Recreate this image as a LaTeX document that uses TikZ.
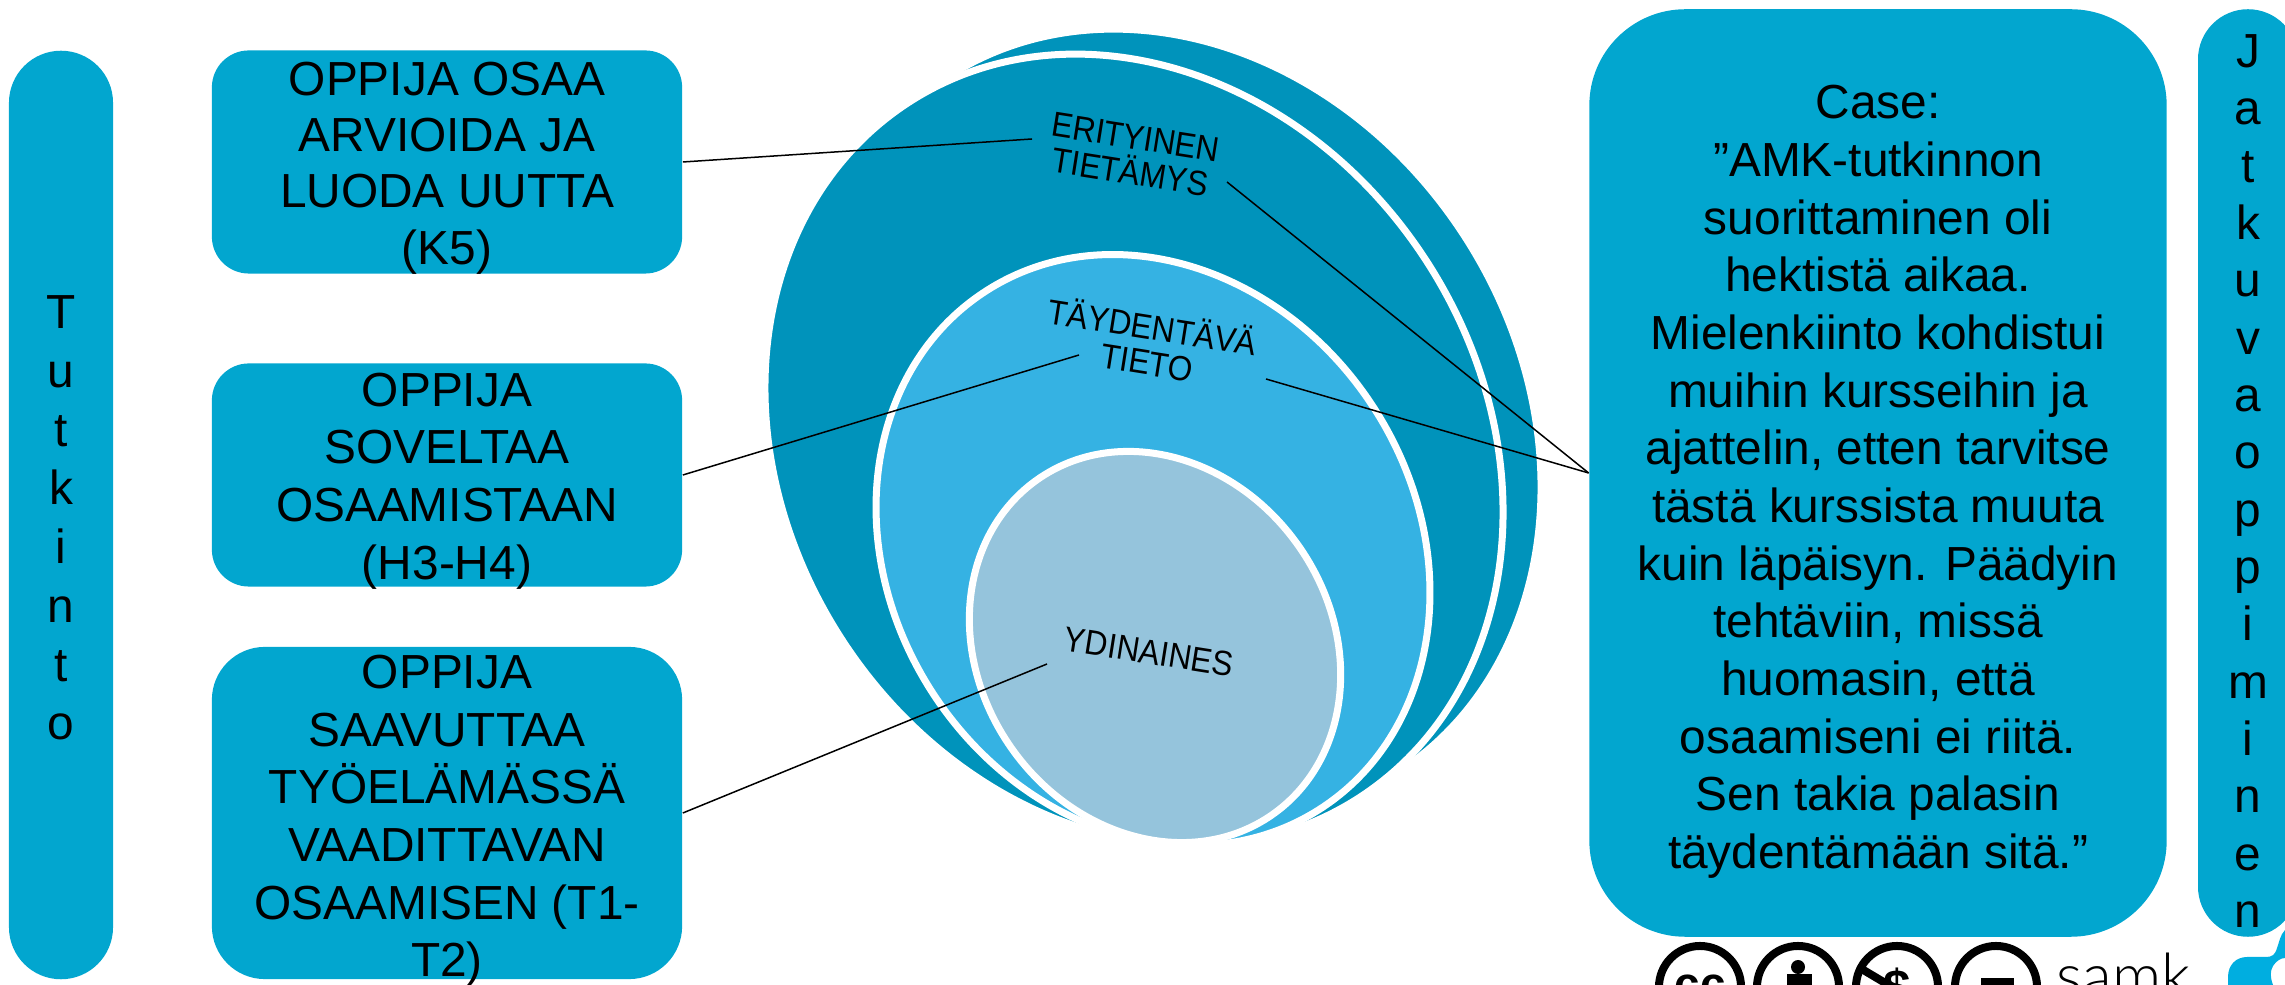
\documentclass[tikz,border=0pt]{standalone}
\usepackage{fontspec}
\setmainfont{Liberation Sans}
\newfontfamily\samkfont{Lato Light}
\usetikzlibrary{shapes.geometric}
\definecolor{barblue}{HTML}{02A6CF}
\definecolor{outerblue}{HTML}{0093BB}
\definecolor{midblue}{HTML}{35B2E3}
\definecolor{coreblue}{HTML}{95C4DC}
\definecolor{logoblue}{HTML}{00AEE0}

\begin{document}
\begin{tikzpicture}[x=0.01cm,y=0.01cm,
    box/.style={fill=barblue,rounded corners=#1,inner sep=0pt},
    boxtext/.style={align=center,inner sep=0pt,yshift=#1,
        font=\fontsize{13.6pt}{16.4pt}\selectfont},
    level/.style={ellipse,draw=white,line width=0.07cm,fill=#1,rotate=-57,inner sep=0pt},
    tag/.style={align=center,rotate=-9,yscale=1.1,transform shape,inner sep=0pt,
        font=\fontsize{9pt}{9.2pt}\selectfont},
    link/.style={draw=black,line width=0.015cm},
    badge/.style={circle,draw=black,line width=0.08cm,minimum size=0.82cm,inner sep=0pt}]
  \useasboundingbox (0,0) rectangle (2285,985);

  % left side
  \node[box=0.52cm,minimum width=1.04cm,minimum height=9.28cm] (degree) at (61,470) {};
  \node[boxtext=-0.03cm,font=\fontsize{13.6pt}{16.7pt}\selectfont] (degreetext) at (degree)
    {T\\u\\t\\k\\i\\n\\t\\o};
  \node[box=0.37cm,minimum width=4.7cm,minimum height=2.23cm] (k5) at (447,823) {};
  \node[boxtext=-0.06cm,font=\fontsize{13.6pt}{16pt}\selectfont] (k5text) at (k5)
    {OPPIJA OSAA\\ARVIOIDA JA\\LUODA UUTTA\\(K5)};
  \node[box=0.37cm,minimum width=4.7cm,minimum height=2.23cm] (h3) at (447,510) {};
  \node[boxtext=-0.06cm] (h3text) at (h3)
    {OPPIJA\\SOVELTAA\\OSAAMISTAAN\\(H3-H4)};
  \node[box=0.53cm,minimum width=4.7cm,minimum height=3.32cm] (t1) at (447,172) {};
  \node[boxtext=-0.08cm] (t1text) at (t1)
    {OPPIJA\\SAAVUTTAA\\TYÖELÄMÄSSÄ\\VAADITTAVAN\\OSAAMISEN (T1-\\T2)};

  % right side
  \node[box=0.96cm,minimum width=5.77cm,minimum height=9.27cm] (casebox) at (1878,512) {};
  \node[boxtext=-0.09cm] (casetext) at (casebox)
    {Case:\\”AMK-tutkinnon\\suorittaminen oli\\hektistä aikaa.\\Mielenkiinto kohdistui\\muihin kursseihin ja\\ajattelin, etten tarvitse\\tästä kurssista muuta\\kuin läpäisyn. Päädyin\\tehtäviin, missä\\huomasin, että\\osaamiseni ei riitä.\\Sen takia palasin\\täydentämään sitä.”};
  \node[box=0.5cm,minimum width=1cm,minimum height=9.27cm] (lifelong) at (2248,512) {};
  \node[boxtext=-0.08cm,font=\fontsize{13.6pt}{16.3pt}\selectfont] (lifelongtext) at (lifelong)
    {J\\a\\t\\k\\u\\v\\a\\o\\p\\p\\i\\m\\i\\n\\e\\n};

  % nested levels
  \node[level=outerblue,minimum width=8.28cm,minimum height=6.96cm] (back) at (1172,560) {};
  \node[level=outerblue,minimum width=8.28cm,minimum height=6.96cm] (special) at (1134,535) {};
  \node[level=midblue,minimum width=6.16cm,minimum height=5.25cm] (extra) at (1153,435) {};
  \node[level=coreblue,rotate=2,minimum width=4.09cm,minimum height=3.51cm] (core) at (1155,338) {};

  \node[tag] (speciallabel) at (1133,830) {ERITYINEN\\TIETÄMYS};
  \node[tag] (extralabel) at (1150,642) {TÄYDENTÄVÄ\\TIETO};
  \node[tag] (corelabel) at (1149,333) {YDINAINES};

  \coordinate (a1) at (1032,846);
  \coordinate (a2) at (1079,630);
  \coordinate (a3) at (1047,321);
  \coordinate (b1) at (1227,803);
  \coordinate (b2) at (1266,606);

  \draw[link] (k5.east) -- (a1);
  \draw[link] (h3.east) -- (a2);
  \draw[link] (t1.east) -- (a3);
  \draw[link] (b1) -- (casebox.west);
  \draw[link] (b2) -- (casebox.west);

  % licence badges and logo
  \node[badge] (cc) at (1700,-2) {};
  \node[badge] (by) at (1798,-2) {};
  \node[badge] (nc) at (1897,-2) {};
  \node[badge] (nd) at (1996,-2) {};
  \node[inner sep=0pt,font=\bfseries\fontsize{13pt}{13pt}\selectfont] (cctext) at (1700,-2) {cc};
  \fill (1798,18) circle (7);
  \fill (1787,-20) rectangle (1812,11);
  \node[inner sep=0pt,font=\bfseries\fontsize{14pt}{14pt}\selectfont] (nctext) at (1897,-3) {\$};
  \draw[line width=0.08cm] (1860,17) -- (1934,-27);
  \fill (1981,-20) rectangle (2014,7);
  \node[anchor=base west,inner sep=0pt,font=\samkfont\fontsize{17.4pt}{17.4pt}\selectfont] (samk) at (2056,-13) {samk};
  \fill[logoblue] (2285,55) .. controls (2280,50) and (2279,42) .. (2277,37)
    .. controls (2275,30) and (2272,28) .. (2266,28) -- (2247,28)
    .. controls (2236,28) and (2228,20) .. (2228,8) -- (2228,0) -- (2273,0)
    .. controls (2270,8) and (2270,14) .. (2273,19)
    .. controls (2276,24) and (2281,27) .. (2285,27) -- cycle;
\end{tikzpicture}
\end{document}
